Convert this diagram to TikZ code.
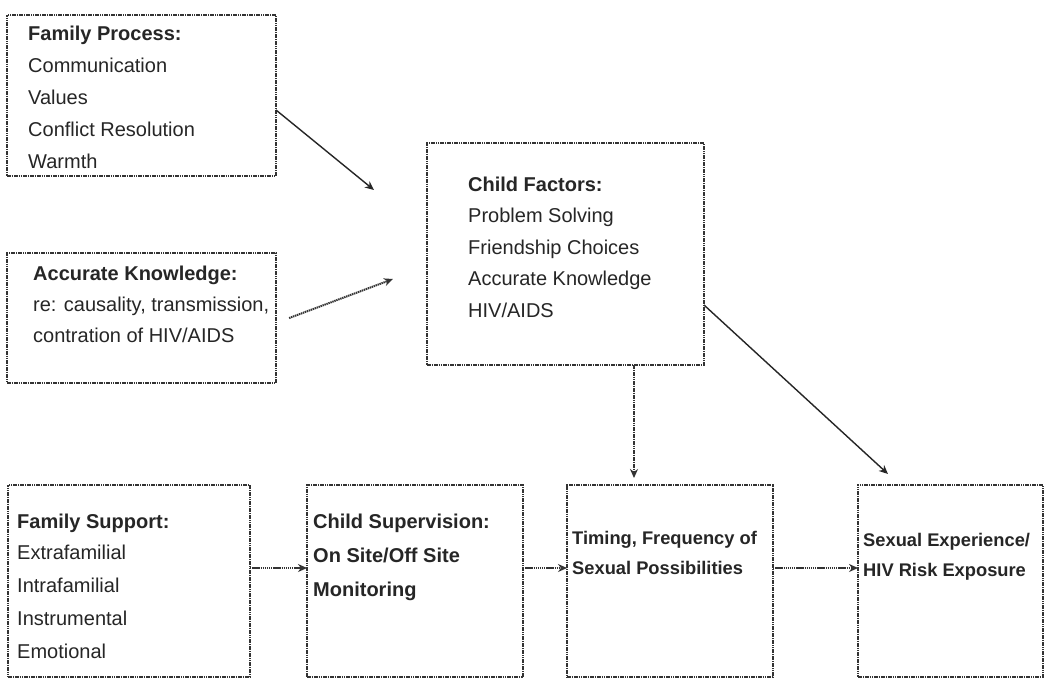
\documentclass[tikz,border=0pt]{standalone}
\usepackage{fontspec}
\setmainfont{Liberation Sans}
\usetikzlibrary{arrows.meta}
\begin{document}
\begin{tikzpicture}[x=1pt,y=-1pt,
  box/.style={draw=black!80, line width=2.8pt, dash pattern=on 1.6pt off 0.7pt, inner sep=0pt, outer sep=0pt},
  txt/.style={anchor=base west, inner sep=0pt, text=black!85, font=\fontsize{20}{24}\selectfont},
  hd/.style={txt, font=\fontsize{20}{24}\selectfont\bfseries},
  hds/.style={txt, font=\fontsize{18.3}{22}\selectfont\bfseries},
  tip/.style={-{Stealth[length=9pt,width=8pt]}},
  solidcon/.style={tip, draw=black!85, line width=1.4pt},
  dotcon/.style={tip, draw=black!80, line width=2pt, dash pattern=on 1.4pt off 0.7pt},
  thickcon/.style={tip, draw=black!80, line width=2.8pt, dash pattern=on 1.6pt off 0.7pt}]
\useasboundingbox[fill=white] (0,0) rectangle (1050,683);

% boxes
\node[box, minimum width=269pt, minimum height=161pt] (fp) at (141.5,95.5) {};
\node[box, minimum width=269pt, minimum height=130pt] (ak) at (141.5,318) {};
\node[box, minimum width=277pt, minimum height=222pt] (cf) at (565.5,254) {};
\node[box, minimum width=242pt, minimum height=192pt] (fs) at (129,581) {};
\node[box, minimum width=216pt, minimum height=192pt] (cs) at (415,581) {};
\node[box, minimum width=206pt, minimum height=192pt] (tm) at (670,581) {};
\node[box, minimum width=185pt, minimum height=192pt] (se) at (950.5,581) {};

% Family Process
\node[hd]  (fp1) at (28,40)  {Family Process:};
\node[txt] (fp2) at (28,72)  {Communication};
\node[txt] (fp3) at (28,104) {Values};
\node[txt] (fp4) at (28,136) {Conflict Resolution};
\node[txt] (fp5) at (28,168) {Warmth};

% Accurate Knowledge
\node[hd]  (ak1) at (33,280) {Accurate Knowledge:};
\node[txt] (ak2) at (33,311) {re: causality, transmission,};
\node[txt] (ak3) at (33,342) {contration of HIV/AIDS};

% Child Factors
\node[hd]  (cf1) at (468,191) {Child Factors:};
\node[txt] (cf2) at (468,222) {Problem Solving};
\node[txt] (cf3) at (468,254) {Friendship Choices};
\node[txt] (cf4) at (468,285) {Accurate Knowledge};
\node[txt] (cf5) at (468,317) {HIV/AIDS};

% Family Support
\node[hd]  (fs1) at (17,528) {Family Support:};
\node[txt] (fs2) at (17,559) {Extrafamilial};
\node[txt] (fs3) at (17,592) {Intrafamilial};
\node[txt] (fs4) at (17,625) {Instrumental};
\node[txt] (fs5) at (17,658) {Emotional};

% Child Supervision
\node[hd] (cs1) at (313,528) {Child Supervision:};
\node[hd] (cs2) at (313,562) {On Site/Off Site};
\node[hd] (cs3) at (313,596) {Monitoring};

% Timing
\node[hds] (tm1) at (572,544.5) {Timing, Frequency of};
\node[hds] (tm2) at (572,574.5) {Sexual Possibilities};

% Sexual Experience
\node[hds] (se1) at (863,546.5) {Sexual Experience/};
\node[hds] (se2) at (863,576.5) {HIV Risk Exposure};

% connector ends
\coordinate (fpend) at (374,190);
\coordinate (akend) at (393,279);
\coordinate (seend) at (888,474);

% connectors
\draw[solidcon] (fp.east |- 0,110) -- (fpend);
\draw[dotcon, shorten <=14pt] (ak.east |- 0,323) -- (akend);
\draw[thickcon, shorten >=7pt] (cf.south -| 634,0) -- (tm.north -| 634,0);
\draw[solidcon] (cf.east |- 0,305) -- (seend);
\draw[dotcon] (fs.east |- 0,568) -- (cs.west |- 0,568);
\draw[dotcon] (cs.east |- 0,568) -- (tm.west |- 0,568);
\draw[dotcon] (tm.east |- 0,568) -- (se.west |- 0,568);
\end{tikzpicture}
\end{document}
